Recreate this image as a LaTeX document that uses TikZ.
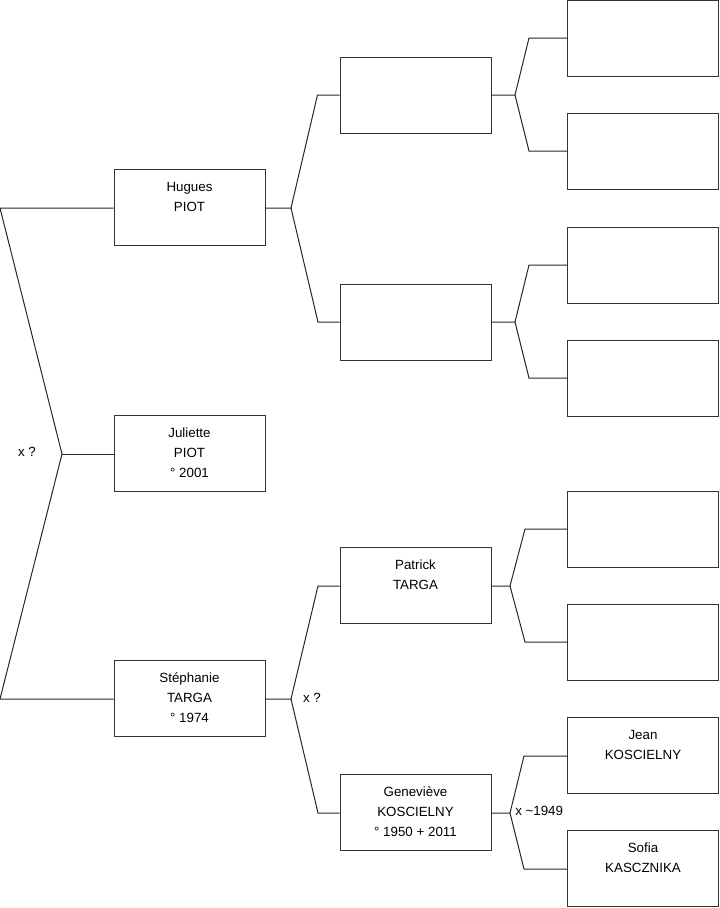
\documentclass[tikz,border=0pt]{standalone}
\usepackage{fontspec}
\setmainfont{Liberation Sans}
\usepackage{tikz}
\usetikzlibrary{positioning}

\begin{document}
\begin{tikzpicture}[
  x=0.75pt, y=-0.75pt,
  person/.style={draw=black!80, line width=0.75pt, fill=white, align=center,
    minimum width=113.25pt, minimum height=57pt, inner sep=0pt,
    font=\fontsize{10}{15}\selectfont},
  link/.style={draw=black!85, line width=0.75pt},
  union/.style={font=\fontsize{10}{12}\selectfont, inner sep=0pt}
]
\useasboundingbox (0,0) rectangle (719,908);
% generation 1
\node[person] (hugues) at (189.5,207) {Hugues\\PIOT\\~};
\node[person] (juliette) at (189.5,453) {Juliette\\PIOT\\° 2001};
\node[person] (stephanie) at (189.5,698) {Stéphanie\\TARGA\\° 1974};
% generation 2
\node[person] (gpa) at (415.5,95) {};
\node[person] (gpb) at (415.5,322) {};
\node[person] (patrick) at (415.5,585) {Patrick\\TARGA\\~};
\node[person] (genevieve) at (415.5,812) {Geneviève\\KOSCIELNY\\° 1950 + 2011};
% generation 3
\node[person] (ga1) at (643,38) {};
\node[person] (ga2) at (643,151) {};
\node[person] (gb1) at (643,265) {};
\node[person] (gb2) at (643,378) {};
\node[person] (gc1) at (643,529) {};
\node[person] (gc2) at (643,642) {};
\node[person] (jean) at (643,755) {Jean\\KOSCIELNY\\~};
\node[person] (sofia) at (643,868) {Sofia\\KASCZNIKA\\~};
% fork points
\coordinate (ltop) at (0,208);
\coordinate (lbot) at (0,699);
\coordinate (f0) at (62,454);
\coordinate (fh) at (291,208);
\coordinate (fs) at (291,699);
\coordinate (fa) at (515,95);
\coordinate (fb) at (515,322);
\coordinate (fc) at (510,586);
\coordinate (fd) at (510,813);
% links
\draw[link] (hugues.west |- ltop) -- (ltop) -- (f0) -- (lbot) -- (stephanie.west |- lbot);
\draw[link] (f0) -- (juliette.west |- f0);
\draw[link] (gpa.west) -- ++(-22,0) -- (fh) -- (hugues.east |- fh);
\draw[link] (fh) -- (318,322) -- (gpb.west);
\draw[link] (patrick.west |- 0,586) -- (318,586) -- (fs) -- (stephanie.east |- fs);
\draw[link] (fs) -- (318,813) -- (genevieve.west |- fd);
\draw[link] (ga1.west) -- ++(-38,0) -- (fa) -- (gpa.east);
\draw[link] (fa) -- (529,151) -- (ga2.west);
\draw[link] (gb1.west) -- ++(-38,0) -- (fb) -- (gpb.east);
\draw[link] (fb) -- (529,378) -- (gb2.west);
\draw[link] (gc1.west) -- ++(-42,0) -- (fc) -- (patrick.east |- fc);
\draw[link] (fc) -- (525,642) -- (gc2.west);
\draw[link] (jean.west |- 0,756) -- (524,756) -- (fd) -- (genevieve.east |- fd);
\draw[link] (fd) -- (524,869) -- (sofia.west |- 0,869);
% unions
\node[union] (u0) at (27,452) {x ?};
\node[union] (u1) at (312,698) {x ?};
\node[union, anchor=west] (u2) at (515,811) {x \textasciitilde1949};
\end{tikzpicture}
\end{document}
